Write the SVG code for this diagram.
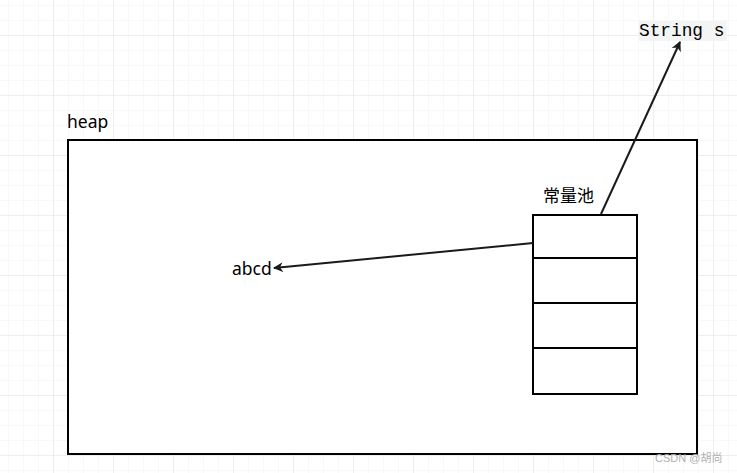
<svg xmlns="http://www.w3.org/2000/svg" width="737" height="473" viewBox="0 0 737 473">
<defs>
<pattern id="minor" x="-7" y="5" width="15" height="15" patternUnits="userSpaceOnUse">
<path d="M0 0H15M0 0V15" fill="none" stroke="#f2f2f2" stroke-width="1"/>
</pattern>
<pattern id="major" x="-7" y="-25" width="60" height="60" patternUnits="userSpaceOnUse">
<path d="M0 0H60M0 0V60" fill="none" stroke="#e3e3e3" stroke-width="1"/>
</pattern>
<marker id="arrow" viewBox="0 0 10 10" refX="9" refY="5" markerWidth="10" markerHeight="10" markerUnits="userSpaceOnUse" orient="auto">
<path d="M0 0L10 5L0 10L3 5Z" fill="#1a1a1a"/>
</marker>
</defs>
<style>
.box{fill:#fff;stroke:#000;stroke-width:2}
.cell{fill:#fff;stroke:#000;stroke-width:2}
.t{font-family:"Noto Sans","Liberation Sans","Noto Sans CJK SC",sans-serif;font-size:17.5px;fill:#000}
.edge{fill:none;stroke:#1a1a1a;stroke-width:2}
</style>
<rect width="737" height="473" fill="#fff"/>
<rect width="737" height="473" fill="url(#minor)"/>
<rect width="737" height="473" fill="url(#major)"/>
<g id="heap">
<rect class="box" x="68" y="140" width="629" height="314"/>
<text class="t" x="67" y="128">heap</text>
</g>
<g id="abcd">
<text class="t" x="232" y="275">abcd</text>
</g>
<g id="pool">
<text class="t" x="543" y="202" style="font-size:17px">常量池</text>
<rect class="cell" x="533" y="215" width="104" height="43"/>
<rect class="cell" x="533" y="258" width="104" height="45"/>
<rect class="cell" x="533" y="303" width="104" height="45"/>
<rect class="cell" x="533" y="348" width="104" height="46"/>
</g>
<g id="strings">
<rect x="639" y="21" width="88" height="20" fill="#f3f4f4"/>
<text x="639" y="36" font-family="Liberation Mono, monospace" font-size="17.8" fill="#000">String s</text>
</g>
<g id="connectors">
<line class="edge" x1="601" y1="214" x2="680" y2="42" marker-end="url(#arrow)"/>
<line class="edge" x1="533" y1="243" x2="274" y2="268" marker-end="url(#arrow)"/>
</g>
<text x="655" y="462" font-family="Liberation Sans, Noto Sans CJK SC, sans-serif" font-size="11" fill="#b0b0b0">CSDN @胡尚</text>
</svg>
